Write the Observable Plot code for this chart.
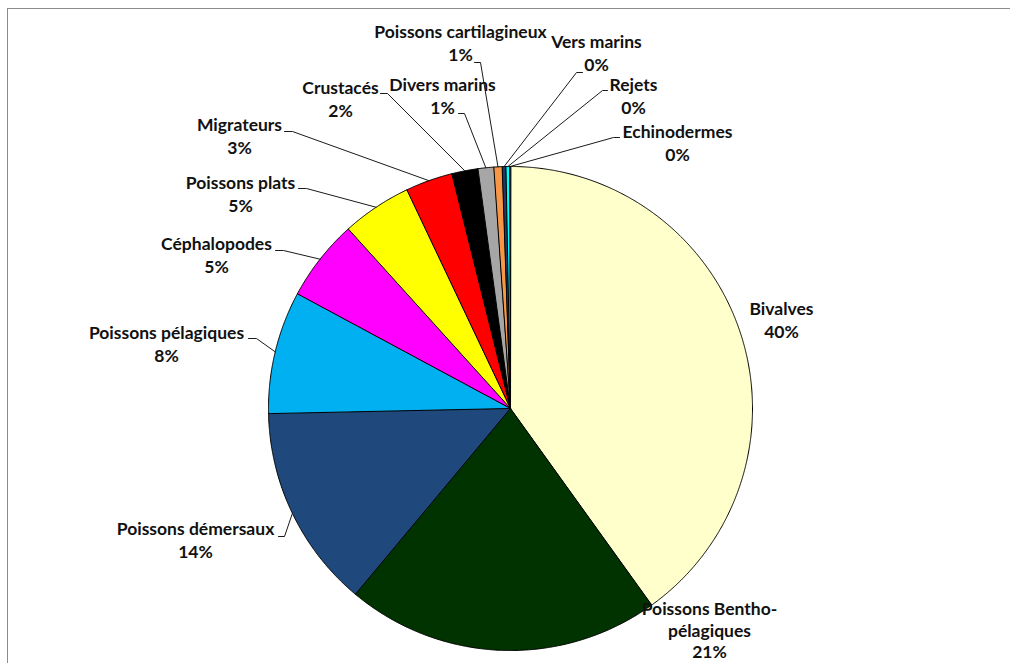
<!DOCTYPE html>
<html><head><meta charset="utf-8">
<script src="https://cdn.jsdelivr.net/npm/d3@7"></script>
<script src="https://cdn.jsdelivr.net/npm/@observablehq/plot@0.6"></script>
<style>
body{margin:0;background:#fff;}
#wrap{position:relative;width:1010px;height:663px;overflow:hidden;background:#fff;}
#frame{position:absolute;left:7px;top:8px;width:1100px;height:700px;border-top:1.5px solid #8c8c8c;border-left:1.5px solid #8c8c8c;}
#chart{position:absolute;left:0;top:0;}
</style></head><body>
<div id="wrap"><div id="frame"></div><div id="chart"></div></div>
<script>
// ---- data ----
const categories = ["Bivalves","Poissons Bentho-pélagiques","Poissons démersaux","Poissons pélagiques","Céphalopodes","Poissons plats","Migrateurs","Crustacés","Divers marins","Poissons cartilagineux","Vers marins","Rejets","Echinodermes"];
const values = [40.1, 21.0, 13.6, 8.2, 5.45, 4.65, 3.15, 1.75, 1.05, 0.55, 0.25, 0.25, 0.05];
// ---- styles ----
const colors = ["#FFFFCC","#003300","#1F497D","#00B0F0","#FF00FF","#FFFF00","#FF0000","#000000","#A6A6A6","#F79646","#1F3864","#00FFFF","#0070C0"];
// ---- layout ----
const W = 1010, H = 663, CX = 510, CY = 408, R = 242, LINE = 23;
// label centre x, first-line centre y, leader tick [x0,y0,x1,y1] (null = none), split line
const labelLayout = [
  {x:781, y:309, tick:null},
  {x:709, y:609, tick:null, split:"Bentho-", gap:21.5},
  {x:195, y:529, tick:[278,536,284,536]},
  {x:166, y:333, tick:[248,338,256,338]},
  {x:216, y:244, tick:[275,250,283,250]},
  {x:240, y:183, tick:[298,188,306,188]},
  {x:239, y:125, tick:[284,131,292,131]},
  {x:340, y:88,  tick:[380,93,387,93]},
  {x:442, y:85,  tick:[458,113,464,113]},
  {x:460, y:32,  tick:[474,62,480,62]},
  {x:596, y:42,  tick:[582,72,576,72]},
  {x:633, y:85,  tick:[607,90,602,90]},
  {x:677, y:132, tick:[619,137,613,137]}
];

const total = d3.sum(values);
const arcs = d3.pie().sort(null).value(d => d)(values);

// slice polygons
const slicePts = [];
arcs.forEach((a, i) => {
  const pt = ang => ({cat: categories[i], color: colors[i], x: CX + R*Math.sin(ang), y: CY - R*Math.cos(ang)});
  slicePts.push({cat: categories[i], color: colors[i], x: CX, y: CY});
  const n = Math.max(2, Math.ceil((a.endAngle - a.startAngle) / (Math.PI/720)));
  for (let k = 0; k <= n; k++) slicePts.push(pt(a.startAngle + (a.endAngle - a.startAngle)*k/n));
});

// leader lines
const leaderPts = [];
arcs.forEach((a, i) => {
  const L = labelLayout[i];
  if (!L.tick) return;
  const m = (a.startAngle + a.endAngle)/2;
  leaderPts.push({cat: categories[i], x: L.tick[0], y: L.tick[1]});
  leaderPts.push({cat: categories[i], x: L.tick[2], y: L.tick[3]});
  leaderPts.push({cat: categories[i], x: CX + R*Math.sin(m), y: CY - R*Math.cos(m)});
});

// label text rows
const textRows = [];
categories.forEach((c, i) => {
  const L = labelLayout[i];
  let lines = L.split ? [c.slice(0, c.indexOf(L.split) + L.split.length), c.slice(c.indexOf(L.split) + L.split.length)] : [c];
  lines.push(Math.round(values[i] / total * 100) + "%");
  lines.forEach((t, k) => textRows.push({x: L.x, y: L.y + k*(L.gap || LINE), t}));
});

const chart = Plot.plot({
  width: W, height: H,
  margin: 0,
  x: {domain: [0, W], range: [0, W], axis: null},
  y: {domain: [0, H], range: [0, H], axis: null},
  color: {type: "identity"},
  style: {background: "transparent"},
  marks: [
    Plot.line(slicePts, {x: "x", y: "y", z: "cat", fill: "color", stroke: "#000", strokeWidth: 1, curve: "linear-closed"}),
    Plot.line(leaderPts, {x: "x", y: "y", z: "cat", stroke: "#1a1a1a", strokeWidth: 1}),
    Plot.text(textRows, {x: "x", y: "y", text: "t", fill: "#111", fontSize: 17.5, fontWeight: "bold", fontFamily: "Lato, 'Open Sans', sans-serif", textAnchor: "middle"})
  ]
});
document.getElementById("chart").appendChild(chart);
</script>
</body></html>
